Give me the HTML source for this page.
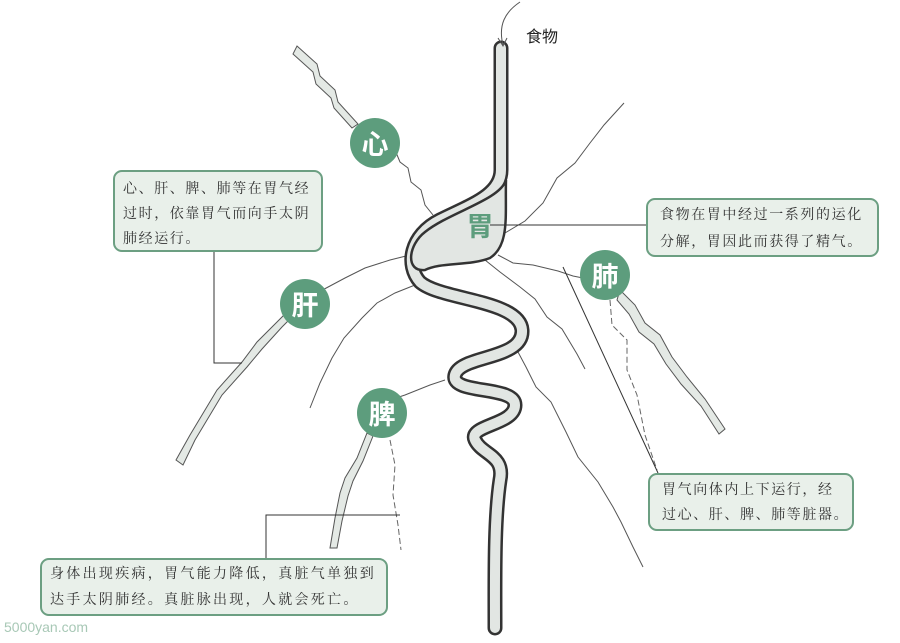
<!DOCTYPE html>
<html><head><meta charset="utf-8"><style>
body{margin:0;background:#fff;width:900px;height:643px;overflow:hidden;position:relative;font-family:"Liberation Serif","Noto Serif CJK SC",serif}
.box{position:absolute;background:#e9f0ea;border:2px solid #6c9f82;border-radius:9px;box-sizing:border-box;color:#333;font-size:14px;letter-spacing:1.6px;line-height:25px;padding:5px 8px;white-space:nowrap}
svg{position:absolute;left:0;top:0}
.c{position:absolute;width:50px;height:50px;border-radius:50%;background:#5d9d7d;color:#fff;font:bold 27px "Noto Sans CJK SC",sans-serif;text-align:center;line-height:50px}
</style></head><body>
<svg width="900" height="643" viewBox="0 0 900 643">
<g fill="none" stroke="#555" stroke-width="1">
<path d="M433,215 l-8,-10 l-4,-15 l-10,-8 l-3,-14 l-8,-6 l-5,-12 l-8,-5"/>
<path d="M410,255 l-20,5 l-25,8 l-20,10 l-15,8 l-15,8"/>
<path d="M415,285 l-20,8 l-18,10 l-15,15 l-18,20 l-12,20 l-12,25 l-10,25"/>
<path d="M495,248 l10,-15 l20,-12 l18,-18 l14,-25 l18,-15 l15,-20 l14,-18 l20,-22"/>
<path d="M498,255 l15,8 l20,2 l25,6 l15,5 l15,3"/>
<path d="M485,260 l15,12 l20,15 l15,12 l12,18 l15,12 l15,25 l8,15"/>
<path d="M518,352 l8,15 l10,20 l15,15 l15,30 l12,25 l20,25 l15,25 l8,15 l12,25 l10,20"/>
<path d="M445,380 l-15,5 l-25,10 l-15,5"/>
</g>
<g fill="#e4e9e5" stroke="#555" stroke-width="1">
<path d="M297,46 l20,18 l3,12 l15,14 l3,12 l20,22 l-6,4 l-18,-20 l-3,-10 l-15,-14 l-3,-12 l-20,-18z"/>
<path d="M176,460 l14,-25 l12,-20 l15,-25 l25,-28 l15,-20 l20,-20 l15,-15 l5,5 l-15,15 l-20,22 l-15,18 l-25,28 l-15,25 l-12,20 l-12,25z"/>
<path d="M620,290 l15,15 l10,18 l15,12 l12,22 l15,20 l18,22 l20,30 l-6,5 l-18,-28 l-20,-22 l-15,-20 l-12,-20 l-15,-12 l-10,-18 l-12,-14z"/>
<path d="M330,548 l5,-30 l5,-25 l5,-15 l12,-20 l10,-25 l6,3 l-10,25 l-10,20 l-5,15 l-6,25 l-5,27z"/>
</g>
<g fill="none" stroke="#666" stroke-dasharray="6,3">
<path d="M610,300 l2,25 l15,15 l0,30 l10,25 l8,40 l12,35"/>
<path d="M390,440 l5,25 l-2,30 l5,30 l3,25"/>
</g>
<g fill="none" stroke-linecap="round" stroke-linejoin="round">
<path d="M501,48 L501,170 C501,195 470,205 440,220 C410,235 405,265 420,282 C440,300 520,300 522,330 C524,360 460,355 455,375 C450,395 515,385 515,405 C515,425 468,425 475,440 C482,455 505,455 500,480 C494,520 495,580 495,628" stroke="#333" stroke-width="15"/>
<path d="M501,48 L501,170 C501,195 470,205 440,220 C410,235 405,265 420,282 C440,300 520,300 522,330 C524,360 460,355 455,375 C450,395 515,385 515,405 C515,425 468,425 475,440 C482,455 505,455 500,480 C494,520 495,580 495,628" stroke="#e2e6e3" stroke-width="10"/>
</g>
<path d="M506,180 C505,215 510,245 490,258 C470,266 440,262 425,270 C405,272 408,245 425,232 C450,212 500,200 506,180z" fill="#e2e6e3" stroke="#333" stroke-width="2.5"/>
<path d="M432,236 C455,222 490,210 497,205" stroke="#e2e6e3" stroke-width="6" fill="none"/>
<path d="M520,2 C505,12 498,25 503,45" fill="none" stroke="#555"/>
<path d="M498,38 l5,8 l4,-8" fill="none" stroke="#555"/>
<g fill="none" stroke="#333" stroke-width="1">
<path d="M214,251 L214,363 L242,363"/>
<path d="M490,225 L646,225"/>
<path d="M563,267 L658,473"/>
<path d="M266,558 L266,515 L400,515"/>
</g>
<text x="480" y="236" font-family="Noto Sans CJK SC,sans-serif" font-weight="bold" font-size="27" fill="#5d9d7d" text-anchor="middle">胃</text>
<text x="526" y="42" font-family="Noto Sans CJK SC,sans-serif" font-size="16" fill="#222">食物</text>
<text x="4" y="632" font-family="Liberation Sans,sans-serif" font-size="14" fill="#a8c8b6">5000yan.com</text>
</svg>
<div class="c" style="left:350px;top:118px">心</div>
<div class="c" style="left:280px;top:279px">肝</div>
<div class="c" style="left:357px;top:388px">脾</div>
<div class="c" style="left:580px;top:250px">肺</div>
<div class="box" style="left:113px;top:170px;width:210px;height:82px">心、肝、脾、肺等在胃气经<br>过时，依靠胃气而向手太阴<br>肺经运行。</div>
<div class="box" style="left:646px;top:198px;width:233px;height:59px;line-height:27px;padding-top:2px;padding-left:12px">食物在胃中经过一系列的运化<br>分解，胃因此而获得了精气。</div>
<div class="box" style="left:648px;top:473px;width:206px;height:58px;padding-top:3px;padding-left:12px">胃气向体内上下运行，经<br>过心、肝、脾、肺等脏器。</div>
<div class="box" style="left:40px;top:558px;width:348px;height:58px;letter-spacing:2.3px;line-height:26px;padding-top:2px">身体出现疾病，胃气能力降低，真脏气单独到<br>达手太阴肺经。真脏脉出现，人就会死亡。</div>
</body></html>
